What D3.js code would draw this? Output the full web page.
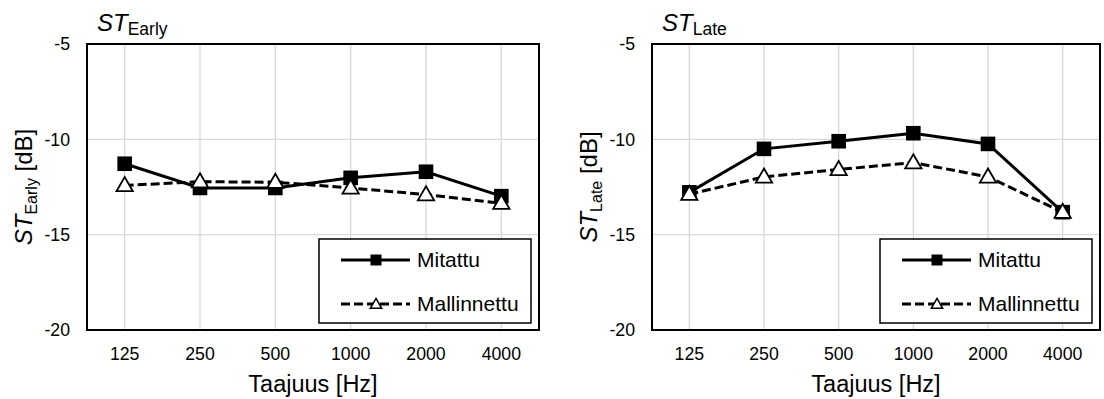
<!DOCTYPE html>
<html><head><meta charset="utf-8">
<script src="https://cdn.jsdelivr.net/npm/d3@7"></script>
<style>body{margin:0;background:#fff}svg{display:block;font-family:"Liberation Sans",Arial,sans-serif}</style>
</head><body>
<script>
const categories = ["125","250","500","1000","2000","4000"];
const yTicks = [-5,-10,-15,-20];
const earlyMitattu = [-11.28,-12.55,-12.55,-12.02,-11.7,-12.98];
const earlyMallinnettu = [-12.42,-12.22,-12.25,-12.55,-12.9,-13.35];
const lateMitattu = [-12.78,-10.5,-10.1,-9.68,-10.24,-13.82];
const lateMallinnettu = [-12.88,-11.97,-11.58,-11.22,-11.97,-13.82];
const seriesNames = ["Mitattu","Mallinnettu"];
const xTitle = "Taajuus [Hz]";

const svg = d3.select("body").append("svg").attr("width",1104).attr("height",399);

function panel(opts){
  const {x0,x1,y0,y1,sub,m,s} = opts;
  const g = svg.append("g");
  const x = d3.scaleBand().domain(categories).range([x0,x1]);
  const y = d3.scaleLinear().domain([-20,-5]).range([y1,y0]);
  const cx = d => x(d)+x.bandwidth()/2;
  // grid
  g.selectAll(".vg").data(categories).enter().append("line")
    .attr("x1",cx).attr("x2",cx).attr("y1",y0).attr("y2",y1)
    .attr("stroke","#d9d9d9").attr("stroke-width",1.3);
  g.selectAll(".hg").data(yTicks.filter(t=>t!==-5&&t!==-20)).enter().append("line")
    .attr("x1",x0).attr("x2",x1).attr("y1",d=>y(d)).attr("y2",d=>y(d))
    .attr("stroke","#d9d9d9").attr("stroke-width",1.3);
  // y tick labels
  g.selectAll(".yt").data(yTicks).enter().append("text")
    .attr("x",x0-17).attr("y",d=>y(d)).attr("dy","0.35em")
    .attr("text-anchor","end").attr("font-size",17.7).text(d=>d);
  // x tick labels
  g.selectAll(".xt").data(categories).enter().append("text")
    .attr("x",cx).attr("y",y1+29.5).attr("text-anchor","middle").attr("font-size",17.7).text(d=>d);
  // x title
  g.append("text").attr("x",(x0+x1)/2).attr("y",y1+62).attr("text-anchor","middle")
    .attr("font-size",23.5).text(xTitle);
  // y title
  const yt = g.append("text").attr("transform",`translate(${x0-55},${(y0+y1)/2}) rotate(-90)`)
    .attr("text-anchor","middle").attr("font-size",24);
  yt.append("tspan").attr("font-style","italic").text("ST");
  yt.append("tspan").attr("font-size",16).attr("dy",5).text(sub);
  yt.append("tspan").attr("dy",-5).text(" [dB]");
  // title
  const tt = g.append("text").attr("x",x0+10).attr("y",y0-13).attr("font-size",24);
  tt.append("tspan").attr("font-style","italic").text("ST");
  tt.append("tspan").attr("font-size",17.5).attr("dy",4).text(sub);
  // lines
  const line = d3.line().x((d,i)=>cx(categories[i])).y(d=>y(d));
  g.append("path").attr("d",line(s)).attr("fill","none").attr("stroke","#000")
    .attr("stroke-width",3).attr("stroke-dasharray","9,4");
  g.append("path").attr("d",line(m)).attr("fill","none").attr("stroke","#000").attr("stroke-width",3);
  const tri = d3.symbol().type(d3.symbolTriangle).size(115);
  g.selectAll(".mk").data(m).enter().append("rect")
    .attr("x",(d,i)=>cx(categories[i])-7.3).attr("y",d=>y(d)-7.3).attr("width",14.6).attr("height",14.6)
    .attr("fill","#000");
  g.selectAll(".tk").data(s).enter().append("path").attr("d",tri)
    .attr("transform",(d,i)=>`translate(${cx(categories[i])},${y(d)+1})`)
    .attr("fill","#fff").attr("stroke","#000").attr("stroke-width",1.8);
  // border
  g.append("rect").attr("x",x0).attr("y",y0).attr("width",x1-x0).attr("height",y1-y0)
    .attr("fill","none").attr("stroke","#000").attr("stroke-width",2);
  // legend
  const lx = x1-220, ly = y1-91;
  g.append("rect").attr("x",lx).attr("y",ly).attr("width",212).attr("height",84)
    .attr("fill","#fff").attr("stroke","#000").attr("stroke-width",1.5);
  const rows = [ly+21, ly+65];
  g.append("line").attr("x1",lx+22).attr("x2",lx+91).attr("y1",rows[0]).attr("y2",rows[0])
    .attr("stroke","#000").attr("stroke-width",3);
  g.append("rect").attr("x",lx+57-5.5).attr("y",rows[0]-5.5).attr("width",11).attr("height",11).attr("fill","#000");
  g.append("line").attr("x1",lx+22).attr("x2",lx+91).attr("y1",rows[1]).attr("y2",rows[1])
    .attr("stroke","#000").attr("stroke-width",3).attr("stroke-dasharray","9,4");
  g.append("path").attr("d",d3.symbol().type(d3.symbolTriangle).size(55))
    .attr("transform",`translate(${lx+57},${rows[1]+1})`).attr("fill","#fff").attr("stroke","#000").attr("stroke-width",1.5);
  g.selectAll(".lt").data(seriesNames).enter().append("text")
    .attr("x",lx+98).attr("y",(d,i)=>rows[i]).attr("dy","0.35em").attr("font-size",21).text(d=>d);
}

panel({x0:87,x1:539,y0:44,y1:330,sub:"Early",m:earlyMitattu,s:earlyMallinnettu});
panel({x0:652,x1:1100,y0:44,y1:330,sub:"Late",m:lateMitattu,s:lateMallinnettu});
</script>
</body></html>
